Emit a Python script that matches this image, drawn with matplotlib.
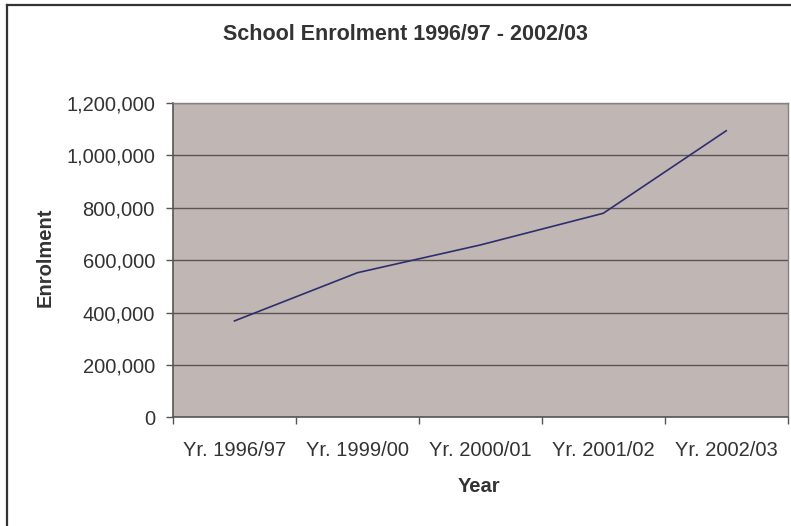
import matplotlib
matplotlib.use("Agg")
import matplotlib.pyplot as plt
from matplotlib.lines import Line2D
from matplotlib.ticker import FuncFormatter, FixedLocator
import numpy as np

years = ["Yr. 1996/97", "Yr. 1999/00", "Yr. 2000/01", "Yr. 2001/02", "Yr. 2002/03"]
enrolment = [368000, 552000, 658000, 779000, 1094000]

plt.rcParams["font.family"] = ["Liberation Sans", "DejaVu Sans"]
TXT = "#333333"

W, H = 791, 526
fig = plt.figure(figsize=(W / 100, H / 100), dpi=100)
ax = fig.add_axes([173 / W, 1 - 417.3 / H, 614.7 / W, 314.3 / H])

x = np.arange(len(years))
ax.set_facecolor("#c0b7b4")
ax.plot(x, enrolment, color="#2e2e6e", lw=1.2, zorder=3)

ax.set_xlim(-0.5, len(years) - 0.5)
ax.set_ylim(0, 1200000)
ax.yaxis.set_major_locator(FixedLocator(np.arange(0, 1200001, 200000)))
ax.yaxis.set_major_formatter(FuncFormatter(lambda v, p: f"{int(v):,}"))
ax.grid(axis="y", color="#5a5555", lw=1.0, zorder=1)
ax.set_axisbelow(True)

# category boundaries as ticks, labels at centres
ax.set_xticks(np.arange(-0.5, len(years), 1.0))
ax.set_xticklabels([])
ax.set_xticks(x, minor=True)
ax.set_xticklabels(years, minor=True)
ax.tick_params(axis="x", which="minor", length=0, pad=17, labelsize=14.5, labelcolor=TXT)
ax.tick_params(axis="x", which="major", length=5, width=1, color="#555555")
ax.tick_params(axis="y", length=5, width=1, color="#555555", labelsize=14.5,
               labelcolor=TXT, pad=8)

for s in ["left", "bottom"]:
    ax.spines[s].set_color("#555555")
    ax.spines[s].set_linewidth(1.2)
for s in ["top", "right"]:
    ax.spines[s].set_color("#8a7f7f")
    ax.spines[s].set_linewidth(1.0)

fig.text(405.5 / W, 1 - 34 / H, "School Enrolment 1996/97 - 2002/03", ha="center",
         va="center", fontsize=15.5, fontweight="bold", color=TXT)
fig.text(45 / W, 1 - 257 / H, "Enrolment", rotation=90, ha="center", va="center",
         fontsize=14.5, fontweight="bold", color=TXT)
fig.text(479 / W, 1 - 486 / H, "Year", ha="center", va="center",
         fontsize=14.5, fontweight="bold", color=TXT)

# outer chart frame (clipped at right / bottom edges)
fig.add_artist(Line2D([7 / W, 7 / W], [0, 1 - 5 / H], color="#333333", lw=1.6))
fig.add_artist(Line2D([7 / W, 1], [1 - 5 / H, 1 - 5 / H], color="#333333", lw=1.6))

fig.savefig("out.png", dpi=100)
